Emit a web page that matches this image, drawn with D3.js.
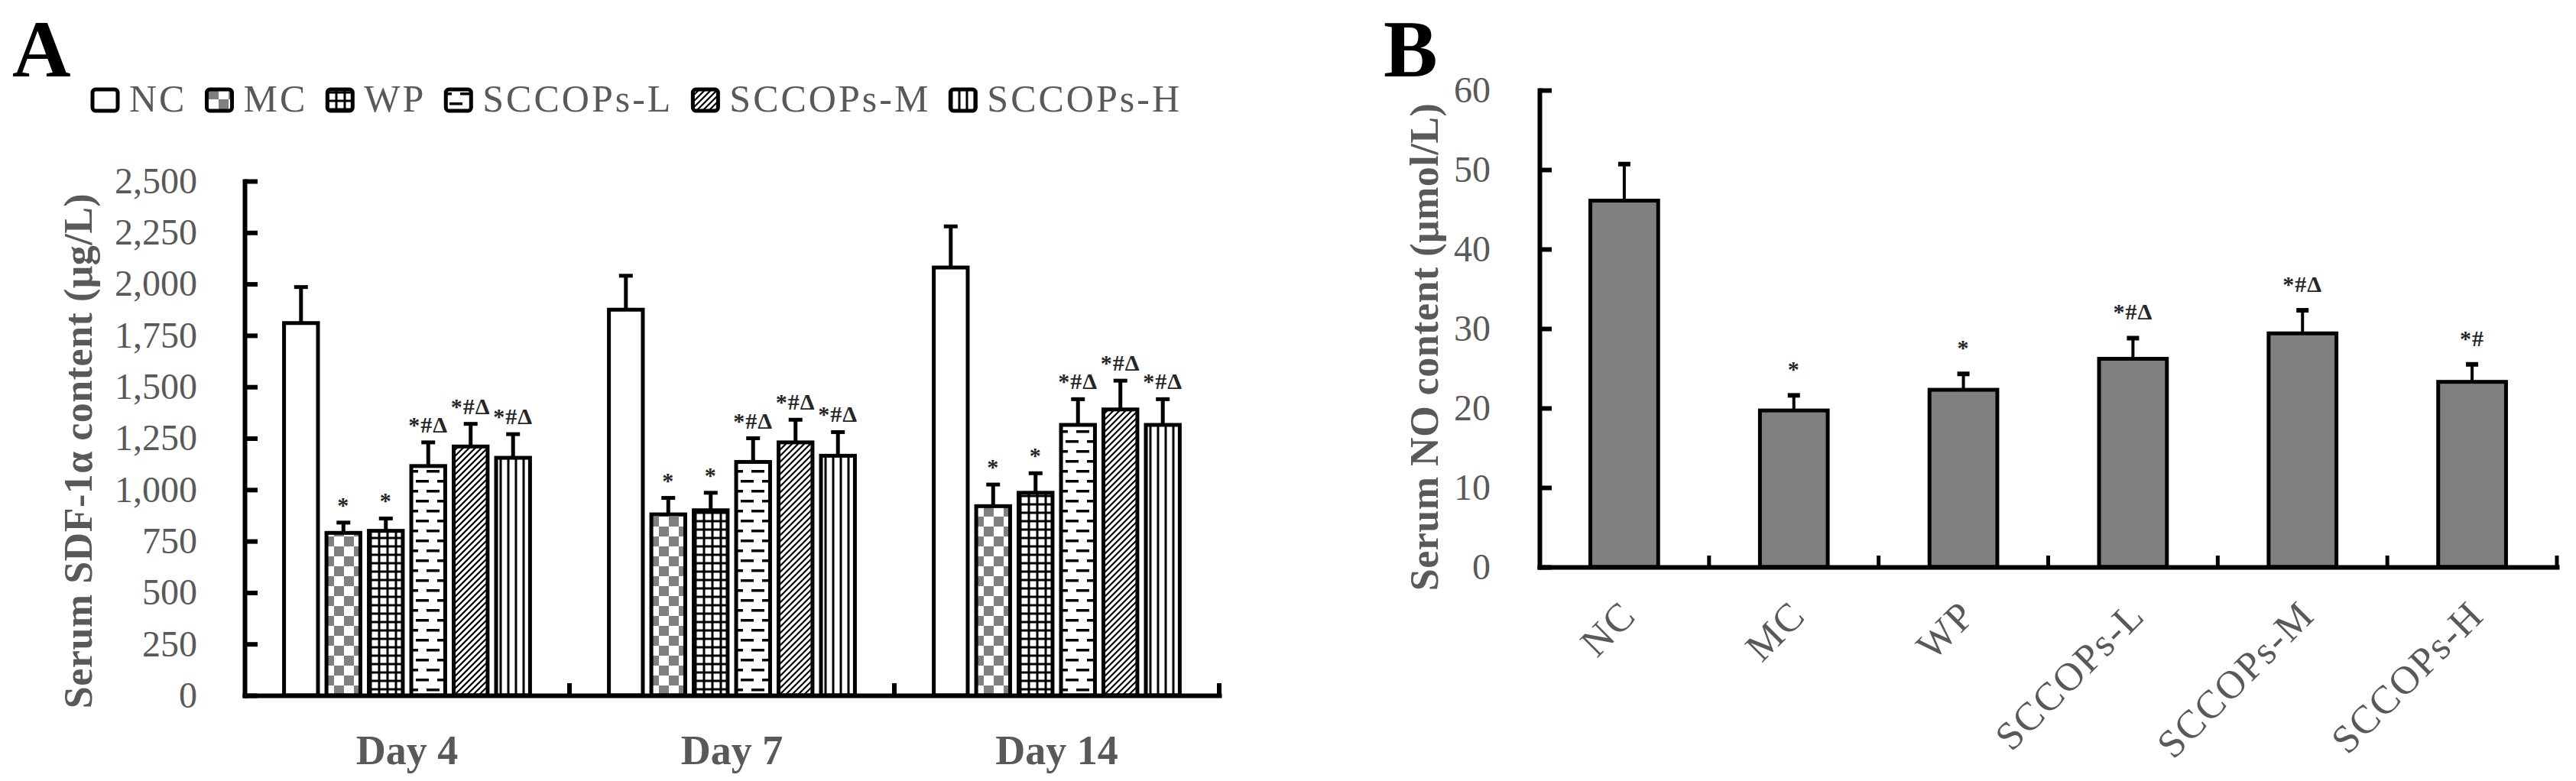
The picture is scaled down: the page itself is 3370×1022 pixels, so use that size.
<!DOCTYPE html>
<html>
<head>
<meta charset="utf-8">
<script src="https://cdn.jsdelivr.net/npm/d3@7"></script>
<style>
  html, body { margin: 0; padding: 0; background: #fff; }
  text { font-family: "Liberation Serif", "Times New Roman", serif; }
</style>
</head>
<body>
<div id="chart"></div>
<script>
// ---- data ----
const days = ["Day 4", "Day 7", "Day 14"];
const groups = ["NC", "MC", "WP", "SCCOPs-L", "SCCOPs-M", "SCCOPs-H"];

// serum SDF-1a (ug/L), one row per day, one value per group
const sdfMean = [
  [1810, 790, 800, 1115, 1210, 1155],
  [1875, 880, 900, 1135, 1230, 1165],
  [2080, 920, 985, 1315, 1390, 1315]
];
const sdfErr = [
  [175, 50, 60, 115, 110, 115],
  [165, 80, 85, 115, 110, 115],
  [200, 105, 95, 125, 140, 125]
];
const sdfSig = ["", "*", "*", "*#Δ", "*#Δ", "*#Δ"];
const sdfTicks = d3.range(0, 2501, 250);

// serum NO (umol/L)
const noMean = [46.1, 19.7, 22.3, 26.2, 29.4, 23.3];
const noErr = [4.6, 1.9, 2.0, 2.6, 2.9, 2.2];
const noSig = ["", "*", "*", "*#Δ", "*#Δ", "*#"];
const noTicks = d3.range(0, 61, 10);

const gray = "#595959";

const svg = d3.select("#chart").append("svg")
    .attr("width", 3370)
    .attr("height", 1022)
    .style("display", "block");

svg.append("rect").attr("width", 3370).attr("height", 1022).attr("fill", "#fff");

// ---- fill patterns for panel A ----
const defs = svg.append("defs");

function pattern(id, w, h) {
  const p = defs.append("pattern")
      .attr("id", id)
      .attr("patternUnits", "userSpaceOnUse")
      .attr("width", w)
      .attr("height", h);
  p.append("rect").attr("width", w).attr("height", h).attr("fill", "#fff");
  return p;
}

pattern("pat-nc", 10, 10);

const mc = pattern("pat-mc", 26, 26);
mc.append("rect").attr("width", 13).attr("height", 13).attr("fill", "#808080");
mc.append("rect").attr("x", 13).attr("y", 13).attr("width", 13).attr("height", 13).attr("fill", "#808080");

const wp = pattern("pat-wp", 11, 11);
wp.append("rect").attr("width", 11).attr("height", 11).attr("fill", "#000");
wp.append("rect").attr("x", 1.5).attr("y", 1.5).attr("width", 8).attr("height", 8).attr("fill", "#fff");

const pl = pattern("pat-l", 28, 26);
[[0, 4], [14, 17], [-14, 17]].forEach(([x, y]) => {
  pl.append("rect").attr("x", x).attr("y", y).attr("width", 17).attr("height", 3.5).attr("fill", "#000");
});

const pm = pattern("pat-m", 8, 8);
pm.append("path")
    .attr("d", "M-2,2 L2,-2 M0,8 L8,0 M6,10 L10,6")
    .attr("stroke", "#000")
    .attr("stroke-width", 2.2);

const ph = pattern("pat-h", 10, 10);
ph.append("rect").attr("x", 3.5).attr("width", 3).attr("height", 10).attr("fill", "#000");

const fills = ["url(#pat-nc)", "url(#pat-mc)", "url(#pat-wp)", "url(#pat-l)", "url(#pat-m)", "url(#pat-h)"];

function styleAxis(g, width) {
  g.selectAll(".domain").attr("stroke", "#000").attr("stroke-width", width).attr("stroke-linecap", "square");
  g.selectAll(".tick line").attr("stroke", "#000").attr("stroke-width", width);
}

function sigLabel(sel, y) {
  sel.append("text")
      .attr("x", d => d.cx)
      .attr("y", y)
      .attr("text-anchor", "middle")
      .attr("font-size", 30)
      .attr("font-weight", "bold")
      .attr("letter-spacing", 1)
      .attr("fill", "#262626")
      .text(d => d.s);
}

// ================= panel A =================
const x0 = d3.scaleBand().domain(days).range([320, 1595]);
const x1 = d3.scaleBand().domain(groups).range([0, x0.bandwidth()])
    .paddingInner(0.2).paddingOuter(0.93);
const yA = d3.scaleLinear().domain([0, 2500]).range([910, 237]);

svg.append("text")
    .attr("x", 16).attr("y", 100)
    .attr("font-size", 106).attr("font-weight", "bold").attr("fill", "#000")
    .text("A");

// legend
const legend = svg.append("g");
let lx = 121;
groups.forEach((g, i) => {
  legend.append("rect")
      .attr("x", lx).attr("y", 117)
      .attr("width", 33).attr("height", 28)
      .attr("rx", 4)
      .attr("fill", fills[i])
      .attr("stroke", "#000").attr("stroke-width", 5);
  const t = legend.append("text")
      .attr("x", lx + 48).attr("y", 146)
      .attr("font-size", 50).attr("letter-spacing", 3)
      .attr("fill", gray)
      .text(g);
  lx += 48 + t.node().getComputedTextLength() + 26;
});

const dayG = svg.append("g").selectAll("g")
    .data(days)
    .join("g")
    .attr("transform", d => `translate(${x0(d)},0)`);

const barsA = dayG.selectAll("g")
    .data((d, i) => groups.map((g, j) => ({
      g, j,
      v: sdfMean[i][j],
      e: sdfErr[i][j],
      s: sdfSig[j],
      cx: x1(g) + x1.bandwidth() / 2
    })))
    .join("g");

barsA.append("rect")
    .attr("x", d => x1(d.g))
    .attr("y", d => yA(d.v))
    .attr("width", x1.bandwidth())
    .attr("height", d => yA(0) - yA(d.v))
    .attr("fill", d => fills[d.j])
    .attr("stroke", "#000")
    .attr("stroke-width", 5);

barsA.append("line")
    .attr("x1", d => d.cx)
    .attr("x2", d => d.cx)
    .attr("y1", d => yA(d.v))
    .attr("y2", d => yA(d.v + d.e))
    .attr("stroke", "#000").attr("stroke-width", 5);

barsA.append("line")
    .attr("x1", d => d.cx - 9)
    .attr("x2", d => d.cx + 9)
    .attr("y1", d => yA(d.v + d.e))
    .attr("y2", d => yA(d.v + d.e))
    .attr("stroke", "#000").attr("stroke-width", 5);

sigLabel(barsA, d => yA(d.v + d.e) - 13);

const yAxisA = svg.append("g")
    .attr("transform", "translate(320,0)")
    .call(d3.axisLeft(yA).tickValues(sdfTicks).tickFormat(d3.format(","))
        .tickSize(-17).tickSizeOuter(0).tickPadding(62));
styleAxis(yAxisA, 6);
yAxisA.selectAll("text").attr("font-size", 48).attr("fill", gray)
    .style("font-family", "'Liberation Serif', serif");

const xAxisA = svg.append("g")
    .attr("transform", "translate(0,910)")
    .call(d3.axisBottom(x0).tickSize(0).tickSizeOuter(0).tickPadding(52));
styleAxis(xAxisA, 6);
xAxisA.selectAll("text").attr("font-size", 54).attr("font-weight", "bold").attr("fill", gray)
    .style("font-family", "'Liberation Serif', serif");

svg.append("g").selectAll("line")
    .data(days)
    .join("line")
    .attr("x1", d => x0(d) + x0.bandwidth())
    .attr("x2", d => x0(d) + x0.bandwidth())
    .attr("y1", 910)
    .attr("y2", 894)
    .attr("stroke", "#000").attr("stroke-width", 6);

svg.append("text")
    .attr("transform", "translate(120,590) rotate(-90)")
    .attr("text-anchor", "middle")
    .attr("font-size", 52).attr("font-weight", "bold").attr("letter-spacing", 0.5)
    .attr("fill", gray)
    .text("Serum SDF-1α content (μg/L)");

// ================= panel B =================
const xB = d3.scaleBand().domain(groups).range([2014, 3345])
    .paddingInner(0.6).paddingOuter(0.3);
const yB = d3.scaleLinear().domain([0, 60]).range([742, 118]);

svg.append("text")
    .attr("x", 1810).attr("y", 100)
    .attr("font-size", 106).attr("font-weight", "bold").attr("fill", "#000")
    .text("B");

const barsB = svg.append("g").selectAll("g")
    .data(groups.map((g, j) => ({
      g,
      v: noMean[j],
      e: noErr[j],
      s: noSig[j],
      cx: xB(g) + xB.bandwidth() / 2
    })))
    .join("g");

barsB.append("rect")
    .attr("x", d => xB(d.g))
    .attr("y", d => yB(d.v))
    .attr("width", xB.bandwidth())
    .attr("height", d => yB(0) - yB(d.v))
    .attr("fill", "#808080")
    .attr("stroke", "#000")
    .attr("stroke-width", 5);

barsB.append("line")
    .attr("x1", d => d.cx)
    .attr("x2", d => d.cx)
    .attr("y1", d => yB(d.v))
    .attr("y2", d => yB(d.v + d.e))
    .attr("stroke", "#000").attr("stroke-width", 4);

barsB.append("line")
    .attr("x1", d => d.cx - 8)
    .attr("x2", d => d.cx + 8)
    .attr("y1", d => yB(d.v + d.e))
    .attr("y2", d => yB(d.v + d.e))
    .attr("stroke", "#000").attr("stroke-width", 6);

sigLabel(barsB, d => yB(d.v + d.e) - 24);

const yAxisB = svg.append("g")
    .attr("transform", "translate(2014,0)")
    .call(d3.axisLeft(yB).tickValues(noTicks)
        .tickSize(-16).tickSizeOuter(0).tickPadding(64));
styleAxis(yAxisB, 6);
yAxisB.selectAll("text").attr("font-size", 48).attr("fill", gray)
    .style("font-family", "'Liberation Serif', serif");

const xAxisB = svg.append("g")
    .attr("transform", "translate(0,742)")
    .call(d3.axisBottom(xB).tickSize(0).tickSizeOuter(0).tickFormat(""));
styleAxis(xAxisB, 6);

svg.append("g").selectAll("line")
    .data(groups)
    .join("line")
    .attr("x1", (d, i) => xB.range()[0] + (i + 1) * xB.step())
    .attr("x2", (d, i) => xB.range()[0] + (i + 1) * xB.step())
    .attr("y1", 742)
    .attr("y2", 727)
    .attr("stroke", "#000").attr("stroke-width", 5);

svg.append("g").selectAll("text")
    .data(groups)
    .join("text")
    .attr("transform", d => `translate(${xB(d) + xB.bandwidth() / 2 + 18},808) rotate(-45)`)
    .attr("text-anchor", "end")
    .attr("font-size", 52).attr("letter-spacing", 2)
    .attr("fill", gray)
    .text(d => d);

svg.append("text")
    .attr("transform", "translate(1881,454) rotate(-90)")
    .attr("text-anchor", "middle")
    .attr("font-size", 52).attr("font-weight", "bold").attr("letter-spacing", 0.5)
    .attr("fill", gray)
    .text("Serum NO content (μmol/L)");
</script>
</body>
</html>
